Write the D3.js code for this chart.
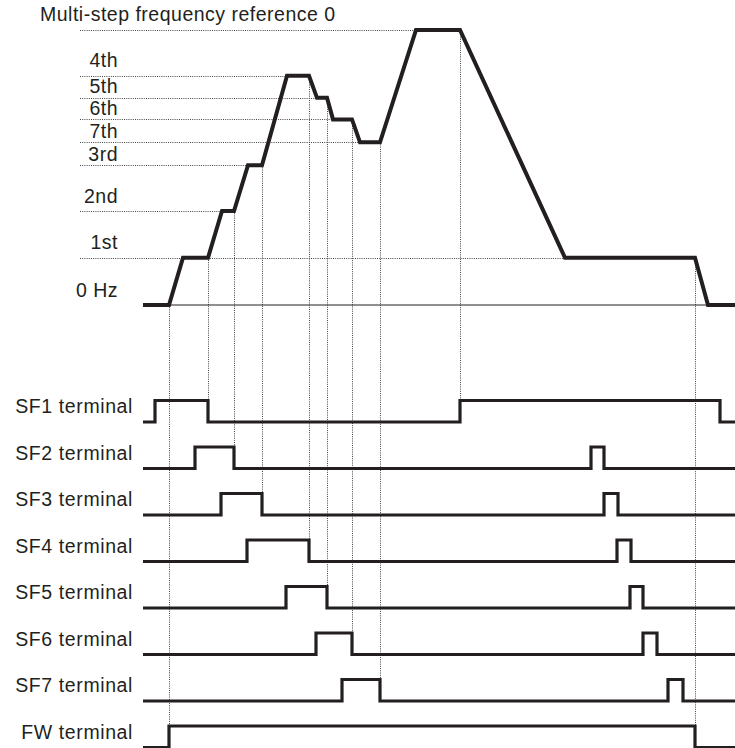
<!DOCTYPE html>
<html><head><meta charset="utf-8">
<script src="https://cdn.jsdelivr.net/npm/d3@7/dist/d3.min.js"></script>
<style>html,body{margin:0;padding:0;background:#fff;} svg{display:block;}</style>
</head><body><svg id="chart" width="735" height="748"></svg>
<script>
// ---------- data ----------
const levelNames = ["0 Hz", "1st", "2nd", "3rd", "7th", "6th", "5th", "4th", "Multi-step frequency reference 0"];
const levelHz    = [0, 10.3, 20.5, 30.5, 35.5, 40.5, 45.2, 50, 60];

// output frequency curve (time in s, frequency in Hz)
const curveT  = [0, 2.6, 4.0, 6.5, 7.9, 9.1, 10.5, 11.9, 14.4, 16.6, 17.4, 18.4, 19.0, 20.9, 21.7, 23.7, 27.3, 31.7, 42.2, 55.2, 56.5, 59.2];
const curveHz = [0, 0, 10.3, 10.3, 20.5, 20.5, 30.5, 30.5, 50, 50, 45.2, 45.2, 40.5, 40.5, 35.5, 35.5, 60, 60, 10.3, 10.3, 0, 0];

// terminal signals: times at which the state toggles (starting low)
const signalNames = ["SF1 terminal", "SF2 terminal", "SF3 terminal", "SF4 terminal", "SF5 terminal", "SF6 terminal", "SF7 terminal", "FW terminal"];
const sf1Edges = [1.2, 6.5, 31.7, 57.7];
const sf2Edges = [5.2, 9.1, 44.8, 46.1];
const sf3Edges = [7.8, 11.9, 46.1, 47.5];
const sf4Edges = [10.4, 16.6, 47.4, 48.8];
const sf5Edges = [14.3, 18.4, 48.7, 50.0];
const sf6Edges = [17.3, 20.9, 50.0, 51.4];
const sf7Edges = [19.9, 23.7, 52.5, 54.0];
const fwEdges  = [2.6, 55.2];
const signalEdges = [sf1Edges, sf2Edges, sf3Edges, sf4Edges, sf5Edges, sf6Edges, sf7Edges, fwEdges];

// vertical guide lines: time, and the terminal they drop to
const guideT      = [2.6, 6.5, 9.1, 11.9, 16.6, 18.4, 20.9, 23.7, 31.7, 55.2];
const guideSignal = ["FW terminal", "SF1 terminal", "SF2 terminal", "SF3 terminal", "SF4 terminal", "SF5 terminal", "SF6 terminal", "SF7 terminal", "SF1 terminal", "FW terminal"];

// ---------- drawing ----------
const W = 735, H = 748;
const ink = "#231f20";
const font = "'Liberation Sans', Arial, Helvetica, sans-serif";
const svg = d3.select("#chart");

const tMax = 59.2;
const x = d3.scaleLinear().domain([0, tMax]).range([143, 735]);
const y = d3.scaleLinear().domain([0, 60]).range([305, 30]);
const row = d3.scalePoint().domain(signalNames).range([422, 747.5]);
const pulseH = 21.5;

const curveAt = t => {
  for (let i = 1; i < curveT.length; i++) {
    if (t <= curveT[i]) {
      const a = curveT[i - 1], b = curveT[i];
      const f = b === a ? 1 : (t - a) / (b - a);
      return curveHz[i - 1] + f * (curveHz[i] - curveHz[i - 1]);
    }
  }
  return curveHz[curveHz.length - 1];
};

// dotted horizontal level lines (to the last arrival at each level)
const gDots = svg.append("g").attr("stroke", "#444").attr("stroke-width", 1).attr("stroke-dasharray", "1,1.2").attr("fill", "none");
levelHz.forEach((hz, li) => {
  if (li === 0) return;
  let tEnd = null;
  for (let i = 1; i < curveT.length; i++) {
    if (curveHz[i] === hz && curveHz[i - 1] !== hz) tEnd = curveT[i];
  }
  gDots.append("line")
    .attr("x1", 80).attr("x2", x(tEnd))
    .attr("y1", Math.round(y(hz)) + 0.5).attr("y2", Math.round(y(hz)) + 0.5);
});

// dotted vertical guides
guideT.forEach((t, i) => {
  const xx = Math.round(x(t)) + 0.5;
  gDots.append("line")
    .attr("x1", xx).attr("x2", xx)
    .attr("y1", y(curveAt(t))).attr("y2", row(guideSignal[i]) - pulseH);
});

// 0 Hz baseline
svg.append("line").attr("x1", x(0)).attr("x2", W)
  .attr("y1", y(0)).attr("y2", y(0))
  .attr("stroke", ink).attr("stroke-width", 1);

// frequency curve
svg.append("path")
  .datum(curveT.map((t, i) => [t, curveHz[i]]))
  .attr("d", d3.line().x(d => x(d[0])).y(d => y(d[1])))
  .attr("fill", "none").attr("stroke", ink).attr("stroke-width", 4).attr("stroke-linejoin", "miter");

// level labels
levelNames.forEach((name, li) => {
  const yy = y(levelHz[li]);
  if (li === levelNames.length - 1) {
    svg.append("text").attr("x", 40).attr("y", yy - 9).text(name)
      .attr("font-family", font).attr("font-size", 19.5).attr("letter-spacing", 0.5).attr("fill", ink);
    return;
  }
  const gapAbove = y(levelHz[li]) - y(levelHz[li + 1]);
  const off = gapAbove < 30 ? 4.6 : 8.5;
  svg.append("text").attr("x", 118).attr("y", yy - off).attr("text-anchor", "end").text(name)
    .attr("font-family", font).attr("font-size", 19.5).attr("letter-spacing", 0.5).attr("fill", ink);
});

// terminal signals
const sigLine = d3.line().x(d => x(d[0])).y(d => d[1]);
signalNames.forEach((name, si) => {
  const low = row(name), high = low - pulseH;
  const pts = [[0, low]];
  let state = 0;
  signalEdges[si].forEach(t => {
    pts.push([t, state ? high : low]);
    state = 1 - state;
    pts.push([t, state ? high : low]);
  });
  pts.push([tMax, state ? high : low]);
  svg.append("path").datum(pts).attr("d", sigLine)
    .attr("fill", "none").attr("stroke", ink).attr("stroke-width", 3.2).attr("stroke-linejoin", "miter");
  svg.append("text").attr("x", 133).attr("y", low - 9).attr("text-anchor", "end").text(name)
    .attr("font-family", font).attr("font-size", 19.5).attr("letter-spacing", 0.6).attr("fill", ink);
});
</script>
</body></html>
